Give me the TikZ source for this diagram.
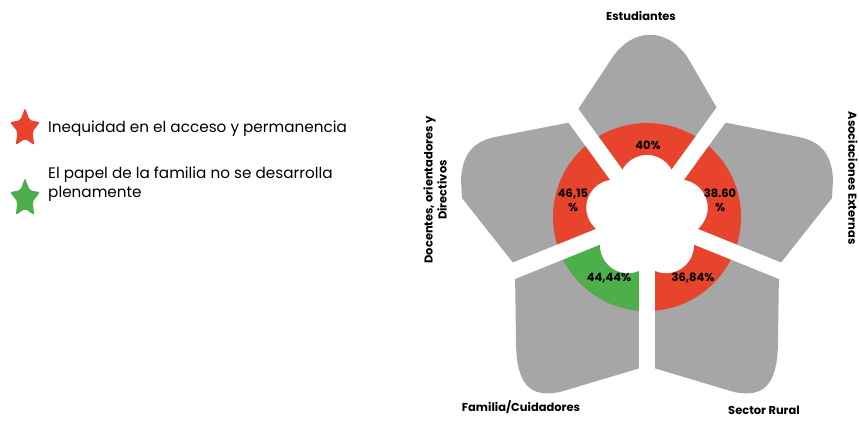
\documentclass[tikz,border=0pt]{standalone}
\usepackage{fontspec}
\setmainfont{Poppins}
\usetikzlibrary{calc}
\definecolor{petalgray}{HTML}{A6A6A6}
\definecolor{ringred}{HTML}{E8432D}
\definecolor{ringgreen}{HTML}{4CAF4A}
\tikzset{
  petal/.style={fill=petalgray, draw=none},
  gapstrip/.style={draw=white, line width=16bp},
  pct/.style={inner sep=0pt, font=\bfseries\fontsize{11.5}{14}\selectfont, text=black, align=center},
  lbl/.style={inner sep=0pt, font=\bfseries\fontsize{11.5}{14}\selectfont, text=black, align=center},
  legtxt/.style={inner sep=0pt, font=\fontsize{15.3}{18.5}\selectfont, text=black, align=left, anchor=base west},
  starshape/.style={rounded corners=2bp}
}
\begin{document}
\begin{tikzpicture}[x=1bp,y=-1bp]
\useasboundingbox (0,0) rectangle (859,421);
\fill[white] (0,0) rectangle (859,421);
\coordinate (C) at (647,217);
% petals
\fill[petal] (C) -- (573,117) -- (612,58) .. controls (633,27) and (667,27) .. (688,58) -- (722,117) -- cycle;
\fill[petal] (C) -- (577,121) -- (495,137) .. controls (470,142) and (462,158) .. (461,180) -- (462,198) -- (518,269) -- cycle;
\fill[petal] (C) -- (717,121) -- (799,137) .. controls (824,142) and (832,158) .. (833,180) -- (832,198) -- (776,269) -- cycle;
\fill[petal] (C) -- (515,270) -- (516,340) .. controls (516,385) and (530,398) .. (560,392) -- (647,366) -- cycle;
\fill[petal] (C) -- (779,270) -- (778,340) .. controls (778,385) and (764,398) .. (734,392) -- (647,366) -- cycle;
% ring (y axis points down: page angle a is written as -a)
\fill[ringred] (C) circle[radius=94];
\fill[ringgreen] (C) -- ++(158:94) arc[start angle=158, end angle=90, radius=94] -- cycle;
% gaps
\foreach \a in {-54,-126,158,90,22}{
  \draw[gapstrip] (C) -- ++(\a:230);
}
% inner flower
\fill[white] (C) circle[radius=50];
\foreach \a in {-90,-164,-16,124,56}{
  \fill[white] ($(C)+(\a:34)$) circle[radius=28];
}
% percentages
\node[pct] (p40) at (648,145) {40\%};
\node[pct] (p46) at (573,200) {46,15\\\%};
\node[pct] (p38) at (720,200) {38.60\\\%};
\node[pct] (p44) at (609,278) {44,44\%};
\node[pct] (p36) at (693,278) {36,84\%};
% labels
\node[lbl] (est) at (641,16) {Estudiantes};
\node[lbl, rotate=90] (doc) at (435,190) {Docentes, orientadores y\\Directivos};
\node[lbl, rotate=-90] (aso) at (853,178) {Asociaciones Externas};
\node[lbl] (fam) at (521,407) {Familia/Cuidadores};
\node[lbl] (sec) at (764,410) {Sector Rural};
% legend
\begin{scope}[shift={(25,128.5)}, xscale=15.8, yscale=-20.5]
\fill[ringred, starshape] (90:1) -- (126:0.5) -- (162:1) -- (198:0.5) -- (234:1) -- (270:0.5) -- (306:1) -- (342:0.5) -- (18:1) -- (54:0.5) -- cycle;
\end{scope}
\begin{scope}[shift={(25,198.5)}, xscale=15.8, yscale=-20.5]
\fill[ringgreen, starshape] (90:1) -- (126:0.5) -- (162:1) -- (198:0.5) -- (234:1) -- (270:0.5) -- (306:1) -- (342:0.5) -- (18:1) -- (54:0.5) -- cycle;
\end{scope}
\node[legtxt] (leg1) at (48,132) {Inequidad en el acceso y permanencia};
\node[legtxt] (leg2) at (48,197) {El papel de la familia no se desarrolla\\plenamente};
\end{tikzpicture}
\end{document}
